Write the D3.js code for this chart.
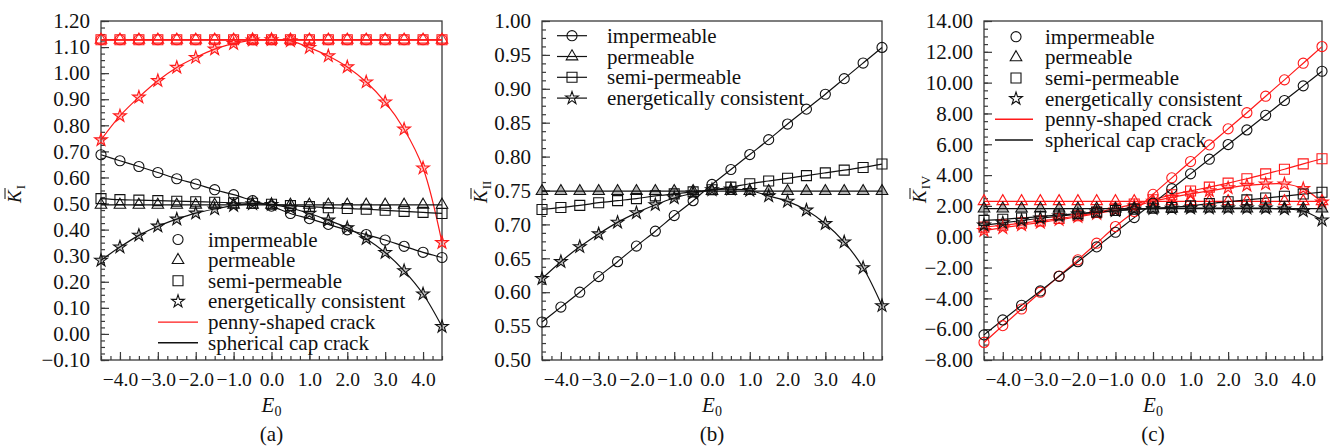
<!DOCTYPE html>
<html>
<head>
<meta charset="utf-8">
<script src="https://d3js.org/d3.v7.min.js"></script>
<style>
  body { margin: 0; background: #fff; }
  text { font-family: "Liberation Serif", "Times New Roman", serif; fill: #111; }
</style>
</head>
<body>
<svg id="chart" width="1335" height="447" style="background:#fff"></svg>
<script>
// ---- data ----
const E0 = [-4.5, -4.0, -3.5, -3.0, -2.5, -2.0, -1.5, -1.0, -0.5, 0.0, 0.5, 1.0, 1.5, 2.0, 2.5, 3.0, 3.5, 4.0, 4.5];
const xTicks = [-4, -3, -2, -1, 0, 1, 2, 3, 4];

// (a) K_I
const aYTicks = [-0.1, 0.0, 0.1, 0.2, 0.3, 0.4, 0.5, 0.6, 0.7, 0.8, 0.9, 1.0, 1.1, 1.2];
const aPennyImp  = [1.128, 1.128, 1.128, 1.128, 1.128, 1.128, 1.128, 1.128, 1.128, 1.128, 1.128, 1.128, 1.128, 1.128, 1.128, 1.128, 1.128, 1.128, 1.128];
const aPennyPerm = [1.128, 1.128, 1.128, 1.128, 1.128, 1.128, 1.128, 1.128, 1.128, 1.128, 1.128, 1.128, 1.128, 1.128, 1.128, 1.128, 1.128, 1.128, 1.128];
const aPennySemi = [1.128, 1.128, 1.128, 1.128, 1.128, 1.128, 1.128, 1.128, 1.128, 1.128, 1.128, 1.128, 1.128, 1.128, 1.128, 1.128, 1.128, 1.128, 1.128];
const aPennyEner = [0.744, 0.836, 0.908, 0.971, 1.022, 1.060, 1.092, 1.113, 1.127, 1.128, 1.124, 1.098, 1.066, 1.024, 0.966, 0.889, 0.785, 0.636, 0.350];
const aCapImp    = [0.687, 0.664, 0.642, 0.619, 0.595, 0.575, 0.553, 0.534, 0.511, 0.490, 0.462, 0.442, 0.420, 0.399, 0.381, 0.360, 0.336, 0.313, 0.293];
const aCapPerm   = [0.495, 0.495, 0.495, 0.495, 0.495, 0.495, 0.495, 0.495, 0.495, 0.495, 0.495, 0.495, 0.495, 0.495, 0.495, 0.495, 0.495, 0.495, 0.495];
const aCapSemi   = [0.519, 0.515, 0.513, 0.511, 0.509, 0.507, 0.505, 0.503, 0.501, 0.497, 0.492, 0.488, 0.484, 0.481, 0.478, 0.474, 0.470, 0.466, 0.462];
const aCapEner   = [0.282, 0.333, 0.378, 0.413, 0.440, 0.463, 0.479, 0.492, 0.499, 0.496, 0.483, 0.462, 0.436, 0.407, 0.365, 0.312, 0.242, 0.153, 0.028];

// (b) K_II
const bYTicks = [0.50, 0.55, 0.60, 0.65, 0.70, 0.75, 0.80, 0.85, 0.90, 0.95, 1.00];
const bImp  = [0.556, 0.578, 0.600, 0.623, 0.645, 0.668, 0.690, 0.713, 0.735, 0.759, 0.781, 0.803, 0.825, 0.848, 0.870, 0.892, 0.915, 0.938, 0.961];
const bPerm = [0.749, 0.749, 0.749, 0.749, 0.749, 0.749, 0.749, 0.749, 0.749, 0.749, 0.749, 0.749, 0.749, 0.749, 0.749, 0.749, 0.749, 0.749, 0.749];
const bSemi = [0.722, 0.725, 0.728, 0.732, 0.735, 0.738, 0.742, 0.745, 0.748, 0.751, 0.755, 0.760, 0.764, 0.768, 0.772, 0.776, 0.780, 0.784, 0.789];
const bEner = [0.620, 0.645, 0.667, 0.686, 0.703, 0.717, 0.729, 0.739, 0.746, 0.751, 0.752, 0.750, 0.742, 0.734, 0.721, 0.701, 0.674, 0.636, 0.580];

// (c) K_IV
const cYTicks = [-8, -6, -4, -2, 0, 2, 4, 6, 8, 10, 12, 14];
const cPennyImp  = [-6.86, -5.77, -4.69, -3.60, -2.55, -1.50, -0.42, 0.66, 1.64, 2.75, 3.82, 4.88, 5.96, 7.00, 8.05, 9.12, 10.18, 11.26, 12.34];
const cPennyPerm = [2.30, 2.30, 2.30, 2.30, 2.30, 2.30, 2.30, 2.30, 2.30, 2.30, 2.30, 2.30, 2.30, 2.30, 2.30, 2.30, 2.30, 2.30, 2.30];
const cPennySemi = [0.62, 0.75, 0.88, 1.02, 1.18, 1.36, 1.58, 1.85, 2.12, 2.40, 2.72, 2.97, 3.22, 3.48, 3.76, 4.08, 4.38, 4.73, 5.06];
const cPennyEner = [0.40, 0.58, 0.76, 0.93, 1.10, 1.30, 1.50, 1.72, 1.98, 2.30, 2.55, 2.78, 2.98, 3.17, 3.33, 3.42, 3.42, 3.12, 2.24];
const cCapImp    = [-6.37, -5.40, -4.45, -3.52, -2.57, -1.62, -0.66, 0.29, 1.24, 2.18, 3.12, 4.08, 5.03, 5.98, 6.93, 7.88, 8.84, 9.79, 10.74];
const cCapPerm   = [1.82, 1.82, 1.82, 1.82, 1.82, 1.82, 1.82, 1.82, 1.82, 1.82, 1.82, 1.82, 1.82, 1.82, 1.82, 1.82, 1.82, 1.82, 1.82];
const cCapSemi   = [1.06, 1.13, 1.22, 1.31, 1.41, 1.50, 1.60, 1.70, 1.79, 1.85, 1.90, 2.00, 2.15, 2.27, 2.39, 2.51, 2.63, 2.77, 2.89];
const cCapEner   = [0.75, 0.90, 1.05, 1.20, 1.34, 1.47, 1.59, 1.69, 1.78, 1.82, 1.84, 1.85, 1.86, 1.86, 1.86, 1.85, 1.80, 1.67, 1.08];

const legendNames = ["impermeable", "permeable", "semi-permeable", "energetically consistent"];
const crackNames = ["penny-shaped crack", "spherical cap crack"];

// ---- drawing ----
const svg = d3.select("#chart");
const plotTop = 21, plotBottom = 360;
const RED = "#ff1a1a", BLK = "#111";
const axisCol = "#3a3a3a";
const fontSize = 21;
const xTickFont = 19.5;

const shapes = {
  circle:   {type: d3.symbolCircle,   size: 80},
  triangle: {type: d3.symbolTriangle, size: 58},
  square:   {type: d3.symbolSquare,   size: 100},
  star:     {type: d3.symbolStar,     size: 50}
};
const shapeOrder = ["circle", "triangle", "square", "star"];

function markerPath(name) {
  return d3.symbol().type(shapes[name].type).size(shapes[name].size)();
}

function drawPanel(p) {
  const g = svg.append("g");
  const x = d3.scaleLinear().domain([-4.5, 4.5]).range([p.left, p.right]);
  const y = d3.scaleLinear().domain(p.yDomain).range([plotBottom, plotTop]);

  // minor ticks (inward)
  const xm = g.append("g").attr("transform", `translate(0,${plotBottom})`)
    .call(d3.axisBottom(x).tickValues(d3.range(-4.5, 4.51, 0.25)).tickSize(-4).tickFormat(""));
  const ym = g.append("g").attr("transform", `translate(${p.left},0)`)
    .call(d3.axisLeft(y).tickValues(d3.range(p.yDomain[0], p.yDomain[1] + p.minor / 2, p.minor)).tickSize(-4).tickFormat(""));

  // major ticks + labels
  const xa = g.append("g").attr("transform", `translate(0,${plotBottom})`)
    .call(d3.axisBottom(x).tickValues(xTicks).tickSize(-8).tickPadding(12).tickFormat(d3.format(".1f")));
  const ya = g.append("g").attr("transform", `translate(${p.left},0)`)
    .call(d3.axisLeft(y).tickValues(p.yTicks).tickSize(-8).tickPadding(11).tickFormat(d3.format(".2f")));

  [xm, ym, xa, ya].forEach(a => {
    a.select(".domain").remove();
    a.selectAll("line").attr("stroke", axisCol).attr("stroke-width", 1.2);
    a.selectAll("text").attr("fill", "#111")
      .attr("font-family", "Liberation Serif, Times New Roman, serif");
  });
  xa.selectAll("text").attr("font-size", xTickFont);
  ya.selectAll("text").attr("font-size", fontSize);

  // frame
  g.append("rect").attr("x", p.left).attr("y", plotTop)
    .attr("width", p.right - p.left).attr("height", plotBottom - plotTop)
    .attr("fill", "none").attr("stroke", axisCol).attr("stroke-width", 1.3);

  // series lines
  const line = d3.line().x((d, i) => x(E0[i])).y(d => y(d)).curve(d3.curveCatmullRom);
  p.series.forEach(s => {
    g.append("path").attr("d", line(s.values))
      .attr("fill", "none").attr("stroke", s.color).attr("stroke-width", 1.2);
  });
  // markers
  p.series.forEach(s => {
    g.append("g").selectAll("path").data(s.values).join("path")
      .attr("transform", (d, i) => `translate(${x(E0[i])},${y(d)})`)
      .attr("d", markerPath(s.shape))
      .attr("fill", s.fill || "none")
      .attr("fill-opacity", s.fillOpacity == null ? 1 : s.fillOpacity)
      .attr("stroke", s.color).attr("stroke-width", 1.1);
  });

  // legend
  const L = p.legend;
  const lg = g.append("g");
  legendNames.forEach((name, i) => {
    const yy = L.y0 + i * L.dy;
    if (L.withLine) {
      lg.append("line").attr("x1", L.lx0).attr("x2", L.lx1).attr("y1", yy).attr("y2", yy)
        .attr("stroke", BLK).attr("stroke-width", 1.2);
    }
    lg.append("path").attr("transform", `translate(${L.mx},${yy})`)
      .attr("d", markerPath(shapeOrder[i])).attr("fill", "none")
      .attr("stroke", BLK).attr("stroke-width", 1.1);
    lg.append("text").attr("x", L.tx).attr("y", yy).attr("dominant-baseline", "central")
      .attr("font-size", fontSize).text(name);
  });
  if (L.cracks) {
    crackNames.forEach((name, j) => {
      const yy = L.y0 + (4 + j) * L.dy;
      lg.append("line").attr("x1", L.lx0).attr("x2", L.lx1).attr("y1", yy).attr("y2", yy)
        .attr("stroke", j === 0 ? RED : BLK).attr("stroke-width", 1.4);
      lg.append("text").attr("x", L.tx).attr("y", yy).attr("dominant-baseline", "central")
        .attr("font-size", fontSize).text(name);
    });
  }

  // y label: K with overbar and roman subscript
  const yl = g.append("g").attr("transform", `translate(${p.ylabX},203) rotate(-90)`);
  const t = yl.append("text").attr("x", 0).attr("y", 0).attr("font-size", 19);
  t.append("tspan").attr("font-style", "italic").text("K");
  t.append("tspan").attr("font-size", 13).attr("dy", 4).attr("dx", 1).text(p.sub);
  yl.append("line").attr("x1", 4).attr("x2", 15).attr("y1", -16).attr("y2", -16)
    .attr("stroke", "#111").attr("stroke-width", 1);

  // x label and panel tag
  const cx = (p.left + p.right) / 2;
  const xl = g.append("text").attr("x", cx).attr("y", 412).attr("text-anchor", "middle").attr("font-size", fontSize);
  xl.append("tspan").attr("font-style", "italic").text("E");
  xl.append("tspan").attr("font-size", 14).attr("dy", 4).text("0");
  g.append("text").attr("x", cx).attr("y", 441).attr("text-anchor", "middle")
    .attr("font-size", fontSize).text(p.tag);
}

const starFill = 0.25;

drawPanel({
  left: 101, right: 442, yDomain: [-0.1, 1.2], yTicks: aYTicks, minor: 0.025,
  ylabX: 21, sub: "I", tag: "(a)",
  series: [
    {values: aPennyImp,  color: RED, shape: "circle"},
    {values: aPennyPerm, color: RED, shape: "triangle"},
    {values: aPennySemi, color: RED, shape: "square"},
    {values: aPennyEner, color: RED, shape: "star", fill: RED, fillOpacity: starFill},
    {values: aCapImp,    color: BLK, shape: "circle"},
    {values: aCapPerm,   color: BLK, shape: "triangle"},
    {values: aCapSemi,   color: BLK, shape: "square"},
    {values: aCapEner,   color: BLK, shape: "star", fill: BLK, fillOpacity: starFill}
  ],
  legend: {mx: 178, lx0: 158, lx1: 198, tx: 208, y0: 239.5, dy: 20.65, withLine: false, cracks: true}
});

drawPanel({
  left: 542, right: 882, yDomain: [0.5, 1.0], yTicks: bYTicks, minor: 0.0125,
  ylabX: 487, sub: "II", tag: "(b)",
  series: [
    {values: bImp,  color: BLK, shape: "circle"},
    {values: bPerm, color: BLK, shape: "triangle", fill: BLK, fillOpacity: 0.3},
    {values: bSemi, color: BLK, shape: "square"},
    {values: bEner, color: BLK, shape: "star", fill: BLK, fillOpacity: starFill}
  ],
  legend: {mx: 572, lx0: 557, lx1: 587, tx: 607, y0: 35.7, dy: 20.8, withLine: true, cracks: false}
});

drawPanel({
  left: 984, right: 1322, yDomain: [-8, 14], yTicks: cYTicks, minor: 0.5,
  ylabX: 926, sub: "IV", tag: "(c)",
  series: [
    {values: cPennyImp,  color: RED, shape: "circle"},
    {values: cPennyPerm, color: RED, shape: "triangle"},
    {values: cPennySemi, color: RED, shape: "square"},
    {values: cPennyEner, color: RED, shape: "star", fill: RED, fillOpacity: starFill},
    {values: cCapImp,    color: BLK, shape: "circle"},
    {values: cCapPerm,   color: BLK, shape: "triangle", fill: BLK, fillOpacity: 0.3},
    {values: cCapSemi,   color: BLK, shape: "square"},
    {values: cCapEner,   color: BLK, shape: "star", fill: BLK, fillOpacity: starFill}
  ],
  legend: {mx: 1016, lx0: 995, lx1: 1033, tx: 1045, y0: 36.7, dy: 20.65, withLine: false, cracks: true}
});
</script>
</body>
</html>
